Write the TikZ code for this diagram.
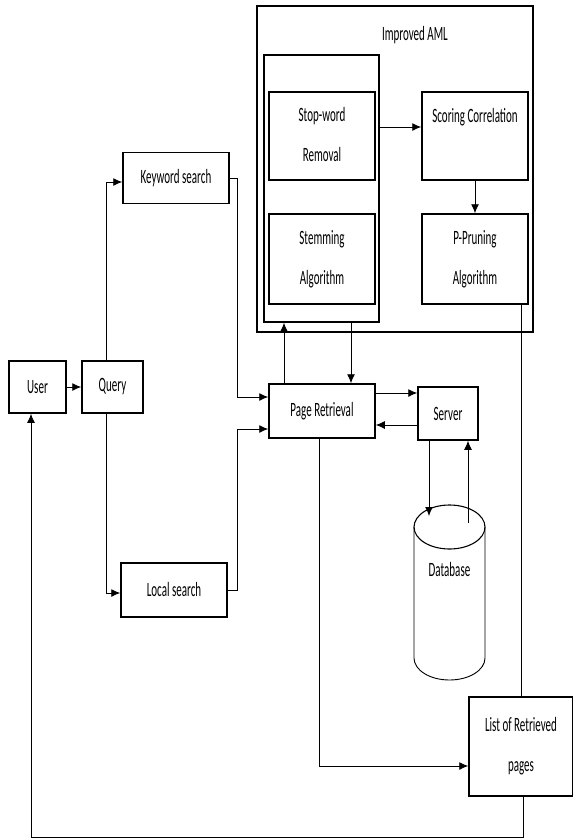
\documentclass[tikz,border=0pt]{standalone}
\usepackage{fontspec}
\setmainfont{Carlito}
\usepackage{graphicx}
\usetikzlibrary{arrows.meta,calc}
\newcommand\vtxt[1]{\scalebox{1}[1.85]{#1}}
\newcommand\vtwo[2]{\scalebox{1}[1.85]{\begin{tabular}{@{}c@{}}#1\\[8pt]#2\end{tabular}}}
\tikzset{
  txt/.style={inner sep=0pt, font=\fontsize{11}{13.6}\selectfont, text=black},
  box/.style={draw, line width=1.5pt, inner sep=0pt, font=\fontsize{11}{13.6}\selectfont, text=black},
  frame/.style={draw, line width=1.5pt, inner sep=0pt},
  conn/.style={line width=0.9pt},
  arr/.style={conn, -{Latex[length=9pt,width=8pt]}},
}
\begin{document}
\begin{tikzpicture}[x=1pt,y=-1pt]
\useasboundingbox (0,0) rectangle (573,839);
% frames
\node[frame, minimum width=276pt, minimum height=326pt] (aml) at (395,169) {};
\node[txt] (amltitle) at (415,35) {\vtxt{Improved AML}};
\node[frame, minimum width=115pt, minimum height=267pt] (inner) at (321.5,188.5) {};
% boxes
\node[box, minimum width=106pt, minimum height=88pt] (stop) at (322,136) {\vtwo{Stop-word}{Removal}};
\node[box, minimum width=106pt, minimum height=90pt] (stem) at (322,259) {\vtwo{Stemming}{Algorithm}};
\node[box, minimum width=106pt, minimum height=88pt] (scor) at (475,136) {};
\node[txt] (scortxt) at (475,117) {\vtxt{Scoring Correlation}};
\node[box, minimum width=106pt, minimum height=90pt] (prun) at (475,259) {\vtwo{P-Pruning}{Algorithm}};
\node[box, minimum width=106pt, minimum height=51pt] (kw) at (176,178) {\vtxt{Keyword search}};
\node[box, minimum width=57pt, minimum height=52pt] (user) at (37.5,387) {\vtxt{User}};
\node[box, minimum width=61pt, minimum height=52pt] (query) at (112.5,387) {\vtxt{Query}};
\node[box, minimum width=106pt, minimum height=54pt] (pr) at (322,411) {\vtxt{Page Retrieval}};
\node[box, minimum width=60pt, minimum height=53pt] (server) at (448,413.5) {\vtxt{Server}};
\node[box, minimum width=106pt, minimum height=54pt] (local) at (174,590) {\vtxt{Local search}};
\node[box, minimum width=104pt, minimum height=99pt] (list) at (521,746.5) {\vtwo{List of Retrieved}{pages}};
% database cylinder
\draw[line width=1.1pt] (449.5,527) ellipse [x radius=35.5pt, y radius=22pt];
\draw[line width=0.9pt] (414,527) -- (414,658) arc[start angle=180, end angle=360, x radius=35.5pt, y radius=22pt] -- (485,527);
\node[txt] (db) at (449.5,570) {\vtxt{Database}};
\coordinate (dbtopL) at (429,516);
\coordinate (dbtopR) at (468,523);
% connectors
\draw[arr] (user.east) -- (query.west);
\draw[arr] (query.north -| 106,0) |- ($(kw.west)+(0,4)$);
\draw[arr] (kw.east) -- ++(8,0) |- ($(pr.west)+(0,-14)$);
\draw[arr] (query.south -| 106,0) |- ($(local.west)+(0,3)$);
\draw[arr] (local.east) -- ++(10,0) |- ($(pr.west)+(0,18)$);
\coordinate (a1) at ($(pr.east)+(0,-18)$);
\draw[arr] (a1) -- (a1 -| server.west);
\coordinate (a2) at ($(server.west)+(0,11.5)$);
\draw[arr] (a2) -- (a2 -| pr.east);
\draw[arr] (server.south -| dbtopL) -- (dbtopL);
\draw[arr] (dbtopR) -- (server.south -| dbtopR);
\draw[arr] (pr.north -| 284,0) -- (inner.south -| 284,0);
\draw[arr] (inner.south -| 351,0) -- (pr.north -| 351,0);
\draw[arr] (inner.east |- 0,127) -- (scor.west |- 0,127);
\draw[arr] (scor.south) -- (prun.north);
\draw[conn] (prun.south -| 521,0) -- (list.north -| 521,0);
\draw[arr] (pr.south -| 319,0) |- ($(list.west)+(0,19.5)$);
\draw[arr] (list.south -| 523,0) |- (31,837) -- (user.south -| 31,0);
\end{tikzpicture}
\end{document}
